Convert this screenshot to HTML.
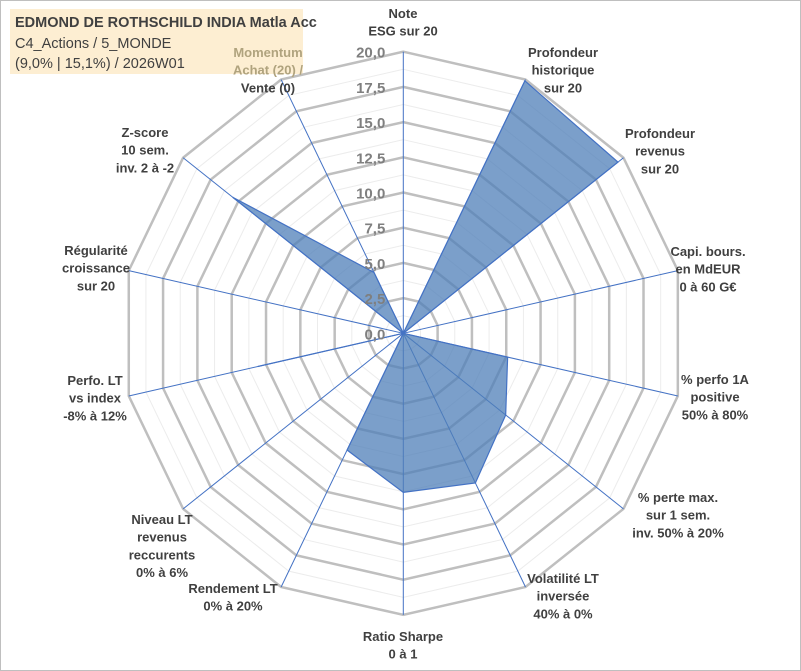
<!DOCTYPE html>
<html><head><meta charset="utf-8"><style>
body{margin:0;background:#fff;}
svg{display:block;font-family:"Liberation Sans",Arial,sans-serif;}
</style></head><body>
<svg id="chart" width="801" height="671" viewBox="0 0 801 671">
<rect x="0.5" y="0.5" width="800" height="670" fill="#fff" stroke="#bfbfbf"/>
<rect x="10" y="9" width="293" height="65" fill="#fdeed2"/>
<g font-family="'Liberation Sans',sans-serif" font-size="14.5" fill="#404040">
<text x="15" y="27" font-weight="bold">EDMOND DE ROTHSCHILD INDIA Matla Acc</text>
<text x="15" y="48">C4_Actions / 5_MONDE</text>
<text x="15" y="68">(9,0% | 15,1%) / 2026W01</text>
</g>
<g id="grid"></g>
<g id="series"></g>
<g id="ticks"></g>
<g id="labels"></g>
</svg>
<script>
const categories=[["Note","ESG sur 20"],["Profondeur","historique","sur 20"],["Profondeur","revenus","sur 20"],["Capi. bours.","en MdEUR","0 à 60 G€"],["% perfo 1A","positive","50% à 80%"],["% perte max.","sur 1 sem.","inv. 50% à 20%"],["Volatilité LT","inversée","40% à 0%"],["Ratio Sharpe","0 à 1"],["Rendement LT","0% à 20%"],["Niveau LT","revenus","reccurents","0% à 6%"],["Perfo. LT","vs index","-8% à 12%"],["Régularité","croissance","sur 20"],["Z-score","10 sem.","inv. 2 à -2"],["Momentum","Achat (20) /","Vente (0)"]];
const seriesValues=[0,19.9,19.5,0,7.6,9.3,11.8,11.3,9.2,0,10.6,0,15.5,4.8];
const tickLabels=["0,0","2,5","5,0","7,5","10,0","12,5","15,0","17,5","20,0"];
const tickValues=[0,2.5,5,7.5,10,12.5,15,17.5,20];
const labelPos=[[403,18],[563,57],[660,138],[708,256],[715,384],[678,502],[563,583],[403,641],[233,593],[162,524],[95,385],[96,255],[145,137],[268,57]];
const CX=403.3,CY=333.3,R=281.6,MAX=20,N=categories.length;
const NS="http://www.w3.org/2000/svg";
function rad(v){return v/MAX*R;}
function pt(i,v){const a=i*2*Math.PI/N;return [CX+rad(v)*Math.sin(a),CY-rad(v)*Math.cos(a)];}
function mk(t,attrs,parent){const e=document.createElementNS(NS,t);for(const k in attrs)e.setAttribute(k,attrs[k]);parent.appendChild(e);return e;}
const grid=document.getElementById('grid');
for(let s=1;s<=16;s++){const v=s*1.25;const ps=[];for(let i=0;i<N;i++)ps.push(pt(i,v).join(','));
const major=s%2===0;
const g=mk('polygon',{points:ps.join(' '),fill:'none',stroke:major?'#bfbfbf':'#ececec','stroke-width':major?2.5:1},grid);

}
for(let i=0;i<N;i++){const p=pt(i,MAX);const l=mk('line',{x1:CX,y1:CY,x2:p[0],y2:p[1],stroke:'#4472c4','stroke-width':1},grid);

}
const ser=document.getElementById('series');
const sp=seriesValues.map((v,i)=>pt(i,v).join(',')).join(' ');
const poly=mk('polygon',{points:sp,fill:'#4f7fb8','fill-opacity':0.75,stroke:'#4472c4','stroke-width':1.2},ser);


const ticks=document.getElementById('ticks');
tickValues.forEach((v,k)=>{const t=mk('text',{x:CX-18,y:CY-rad(v)+6,'text-anchor':'end','font-size':15,'font-weight':'bold',fill:'#7f7f7f'},ticks);t.textContent=tickLabels[k];

});
const labels=document.getElementById('labels');
categories.forEach((lines,i)=>{const t=mk('text',{'text-anchor':'middle','font-size':13,'font-weight':'bold',fill:'#404040'},labels);


lines.forEach((ln,j)=>{const ts=mk('tspan',{x:labelPos[i][0],y:labelPos[i][1]+j*17.7},t);ts.textContent=ln;
if(i===13&&j<2)ts.setAttribute('fill','#b0a37e');});});
</script>
</body></html>
